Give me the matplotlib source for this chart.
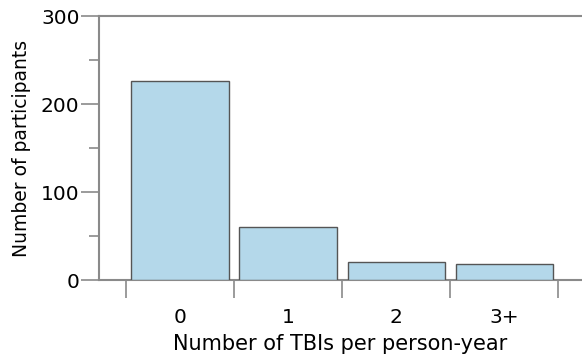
import matplotlib
matplotlib.use("Agg")
import matplotlib.pyplot as plt
import numpy as np

categories = ["0", "1", "2", "3+"]
counts = [226, 60, 20, 18]
y_ticks = [0, 100, 200, 300]
y_minor = [50, 150, 250]

plt.rcParams['font.family'] = ['DejaVu Sans']

fig = plt.figure(figsize=(5.82, 3.59), dpi=100)
ax = fig.add_axes([99/582, 79/359, 1 - 99/582, 264/359])

x = np.arange(len(categories))
ax.bar(x, counts, width=0.9, color="#b4d8ea", edgecolor="#555555", linewidth=1.0, zorder=3)

ax.set_xlim(-0.75, 3.72)
ax.set_ylim(0, 300)

spine_col = "#8a8a8a"
for s in ["left", "top", "bottom"]:
    ax.spines[s].set_color(spine_col)
    ax.spines[s].set_linewidth(1.5)
ax.spines["right"].set_visible(False)

ax.set_yticks(y_ticks)
ax.set_yticks(y_minor, minor=True)
ax.tick_params(axis="y", which="major", length=13, width=1.2, color=spine_col, labelsize=14.5, pad=1)
ax.tick_params(axis="y", which="minor", length=7, width=1.2, color=spine_col)

edges = np.arange(len(categories) + 1) - 0.5
ax.set_xticks(edges)
ax.set_xticklabels([])
ax.set_xticks(x, minor=True)
ax.set_xticklabels(categories, minor=True)
ax.tick_params(axis="x", which="major", length=13, width=1.2, color=spine_col, direction="out")
ax.tick_params(axis="x", which="minor", length=0, labelsize=14.5, pad=20)

ax.set_xlabel("Number of TBIs per person-year", fontsize=15, labelpad=5)
ax.set_ylabel("Number of participants", fontsize=13.5, labelpad=7)

fig.savefig("out.png", dpi=100)
